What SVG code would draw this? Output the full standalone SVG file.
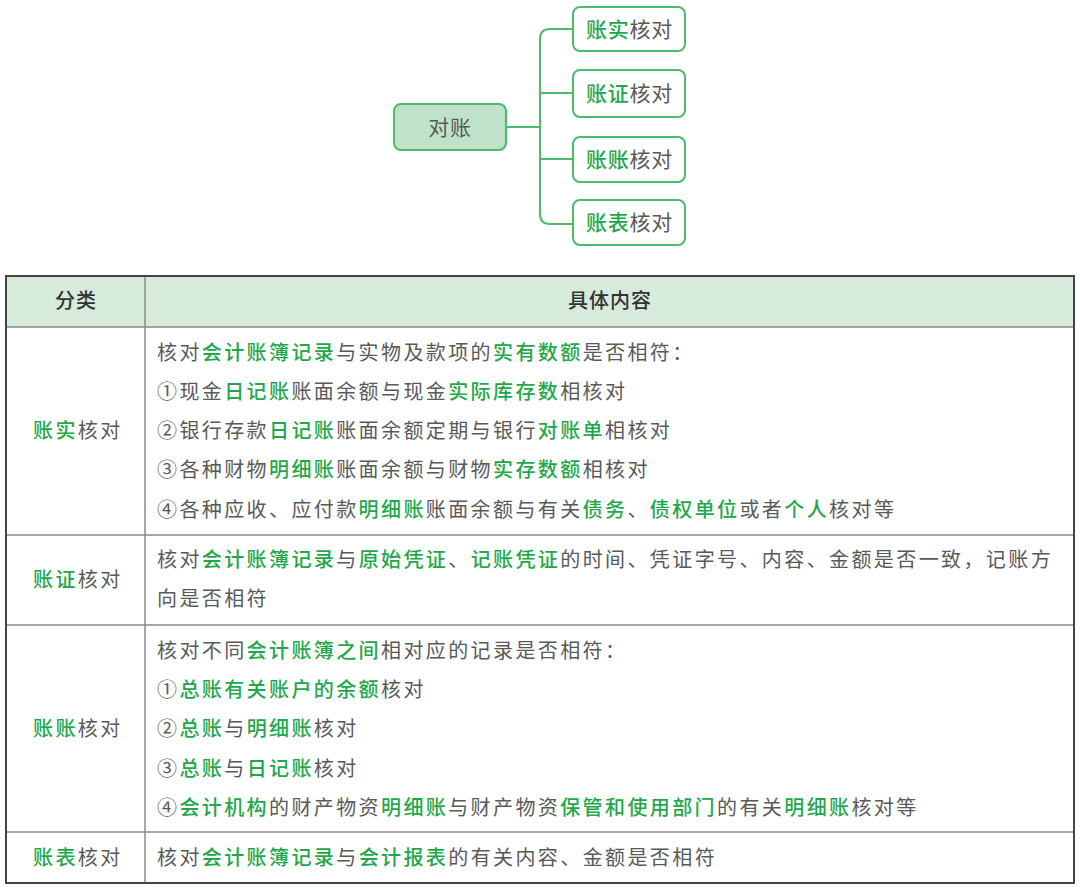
<svg xmlns="http://www.w3.org/2000/svg" width="1080" height="889" viewBox="0 0 1080 889">
<style>
.t{font-family:"Noto Sans CJK SC","Noto Sans",sans-serif;font-size:20px;fill:#595959;letter-spacing:2.4px}
.g{fill:#1fa84a;font-weight:500}
.h{font-family:"Noto Sans CJK SC","Noto Sans",sans-serif;font-size:20px;fill:#333;font-weight:500;letter-spacing:1px}
.m{font-family:"Noto Sans CJK SC","Noto Sans",sans-serif;font-size:21px;fill:#595959;letter-spacing:0.7px}
.box{fill:#fff;stroke:#4cbb6c;stroke-width:2}
.root{fill:#bfe3c9;stroke:#4cbb6c;stroke-width:2}
.conn{fill:none;stroke:#4cbb6c;stroke-width:2}
.inner{stroke:#8a8a8a;stroke-width:1.5}
</style>
<rect width="1080" height="889" fill="#fff"/>
<g id="connectors">
<path class="conn" d="M505,127 H540"/>
<path class="conn" d="M573,29 H550 Q540,29 540,39 V214 Q540,224 550,224 H573"/>
<path class="conn" d="M540,93 H573"/>
<path class="conn" d="M540,159 H573"/>
</g>
<g id="root">
<rect class="root" x="394" y="104" width="112" height="46" rx="7"/>
<text class="m" x="450" y="134.5" text-anchor="middle">对账</text>
</g>
<g id="n1">
<rect class="box" x="573" y="7" width="112" height="44" rx="7"/>
<text class="m" x="629.5" y="36.5" text-anchor="middle"><tspan class="g">账实</tspan>核对</text>
</g>
<g id="n2">
<rect class="box" x="573" y="70" width="112" height="47" rx="7"/>
<text class="m" x="629.5" y="100.5" text-anchor="middle"><tspan class="g">账证</tspan>核对</text>
</g>
<g id="n3">
<rect class="box" x="573" y="137" width="112" height="45" rx="7"/>
<text class="m" x="629.5" y="166.5" text-anchor="middle"><tspan class="g">账账</tspan>核对</text>
</g>
<g id="n4">
<rect class="box" x="573" y="200" width="112" height="45" rx="7"/>
<text class="m" x="629.5" y="229.5" text-anchor="middle"><tspan class="g">账表</tspan>核对</text>
</g>
<g id="table">
<rect x="6" y="276" width="1068" height="51" fill="#d6ebdc"/>
<line class="inner" x1="6" y1="327" x2="1074" y2="327"/>
<line class="inner" x1="6" y1="535" x2="1074" y2="535"/>
<line class="inner" x1="6" y1="625" x2="1074" y2="625"/>
<line class="inner" x1="6" y1="832" x2="1074" y2="832"/>
<line class="inner" x1="145" y1="276" x2="145" y2="883"/>
<rect x="6" y="276" width="1068" height="607" fill="none" stroke="#444" stroke-width="2"/>
<text class="h" x="76" y="308" text-anchor="middle">分类</text>
<text class="h" x="610" y="308" text-anchor="middle">具体内容</text>
<text class="t" x="33" y="438"><tspan class="g">账实</tspan>核对</text>
<text class="t" x="33" y="587"><tspan class="g">账证</tspan>核对</text>
<text class="t" x="33" y="736"><tspan class="g">账账</tspan>核对</text>
<text class="t" x="33" y="865"><tspan class="g">账表</tspan>核对</text>
<text class="t" x="157" y="360">核对<tspan class="g">会计账簿记录</tspan>与实物及款项的<tspan class="g">实有数额</tspan>是否相符：</text>
<text class="t" x="157" y="399">①现金<tspan class="g">日记账</tspan>账面余额与现金<tspan class="g">实际库存数</tspan>相核对</text>
<text class="t" x="157" y="438">②银行存款<tspan class="g">日记账</tspan>账面余额定期与银行<tspan class="g">对账单</tspan>相核对</text>
<text class="t" x="157" y="477">③各种财物<tspan class="g">明细账</tspan>账面余额与财物<tspan class="g">实存数额</tspan>相核对</text>
<text class="t" x="157" y="517">④各种应收、应付款<tspan class="g">明细账</tspan>账面余额与有关<tspan class="g">债务</tspan>、<tspan class="g">债权单位</tspan>或者<tspan class="g">个人</tspan>核对等</text>
<text class="t" x="157" y="567">核对<tspan class="g">会计账簿记录</tspan>与<tspan class="g">原始凭证</tspan>、<tspan class="g">记账凭证</tspan>的时间、凭证字号、内容、金额是否一致，记账方</text>
<text class="t" x="157" y="606">向是否相符</text>
<text class="t" x="157" y="658">核对不同<tspan class="g">会计账簿之间</tspan>相对应的记录是否相符：</text>
<text class="t" x="157" y="697">①<tspan class="g">总账有关账户的余额</tspan>核对</text>
<text class="t" x="157" y="736">②<tspan class="g">总账</tspan>与<tspan class="g">明细账</tspan>核对</text>
<text class="t" x="157" y="776">③<tspan class="g">总账</tspan>与<tspan class="g">日记账</tspan>核对</text>
<text class="t" x="157" y="815">④<tspan class="g">会计机构</tspan>的财产物资<tspan class="g">明细账</tspan>与财产物资<tspan class="g">保管和使用部门</tspan>的有关<tspan class="g">明细账</tspan>核对等</text>
<text class="t" x="157" y="865">核对<tspan class="g">会计账簿记录</tspan>与<tspan class="g">会计报表</tspan>的有关内容、金额是否相符</text>
</g>
</svg>
